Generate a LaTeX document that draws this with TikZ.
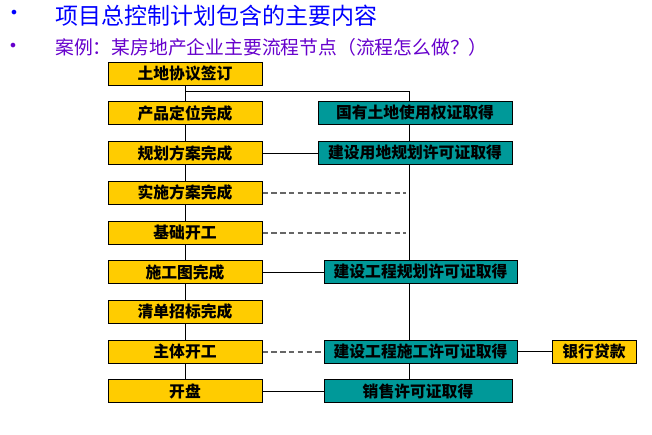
\documentclass[tikz,border=0pt]{standalone}
\usepackage{fontspec}
\newfontfamily\cjk{Noto Sans CJK SC}
\newfontfamily\dejavu{DejaVu Sans}
\usetikzlibrary{backgrounds}
\definecolor{boxyellow}{RGB}{255,204,0}
\definecolor{boxteal}{RGB}{0,153,153}
\definecolor{titleblue}{RGB}{0,0,255}
\definecolor{titlepurple}{RGB}{102,0,204}
\tikzset{
  base/.style={draw=black, line width=1pt, inner sep=0pt, minimum height=23pt,
    font=\cjk\bfseries\fontsize{15.8}{16}\selectfont, text=black},
  ybox/.style={base, fill=boxyellow, minimum width=154pt},
  tbox/.style={base, fill=boxteal},
  link/.style={draw=black, line width=1pt},
  dlink/.style={draw=black!60, line width=2pt, dash pattern=on 5.5pt off 3.3pt},
  bullet/.style={inner sep=0pt, font=\dejavu\fontsize{16}{16}\selectfont},
}
\begin{document}
\begin{tikzpicture}[x=1pt,y=-1pt]
\useasboundingbox (0,0) rectangle (652,434);
% titles
\node[bullet, text=titleblue] (b1) at (14,14) {•};
\node[anchor=west, text=titleblue, font=\cjk\fontsize{23}{23}\selectfont, inner sep=0pt] (t1) at (55,16) {项目总控制计划包含的主要内容};
\node[bullet, text=titlepurple] (b2) at (13,47) {•};
\node[anchor=west, text=titlepurple, font=\cjk\fontsize{18.8}{19}\selectfont, inner sep=0pt] (t2) at (55,47) {案例：某房地产企业主要流程节点（流程怎么做？）};
% left column
\node[ybox] (L1) at (185,74) {土地协议签订};
\node[ybox] (L2) at (185,113) {产品定位完成};
\node[ybox] (L3) at (185,153) {规划方案完成};
\node[ybox] (L4) at (185,192.5) {实施方案完成};
\node[ybox] (L5) at (185,232.5) {基础开工};
\node[ybox] (L6) at (185,272) {施工图完成};
\node[ybox] (L7) at (185,311.5) {清单招标完成};
\node[ybox] (L8) at (185,351.5) {主体开工};
\node[ybox] (L9) at (185,391) {开盘};
% right column
\node[tbox, minimum width=194pt] (R1) at (415,113) {国有土地使用权证取得};
\node[tbox, minimum width=194pt] (R2) at (415,153) {建设用地规划许可证取得};
\node[tbox, minimum width=193pt] (R3) at (420.5,272) {建设工程规划许可证取得};
\node[tbox, minimum width=193pt] (R4) at (420.5,351.5) {建设工程施工许可证取得};
\node[tbox, minimum width=188pt] (R5) at (418,391) {销售许可证取得};
\node[ybox, minimum width=84pt] (B) at (594,351.5) {银行贷款};
% helper coordinates
\coordinate (j) at (185,91);
\coordinate (r) at (409,91);
\coordinate (rb) at (409,380);
\coordinate (d1) at (406,192.5);
\coordinate (d2) at (406,232.5);
\begin{scope}[on background layer]
  \draw[link] (L1) -- (L2) -- (L3) -- (L4) -- (L5) -- (L6) -- (L7) -- (L8) -- (L9);
  \draw[link] (j) -- (r) -- (rb);
\end{scope}
\draw[link] (L3.east) -- (R2.west);
\draw[link] (L6.east) -- (L6.east -| R3.west);
\draw[link] (L9.east) -- (L9.east -| R5.west);
\draw[link] (R4.east) -- (B.west);
\draw[dlink] (L4.east) -- (d1);
\draw[dlink] (L5.east) -- (d2);
\draw[dlink] (L8.east) -- (L8.east -| R4.west);
\end{tikzpicture}
\end{document}
